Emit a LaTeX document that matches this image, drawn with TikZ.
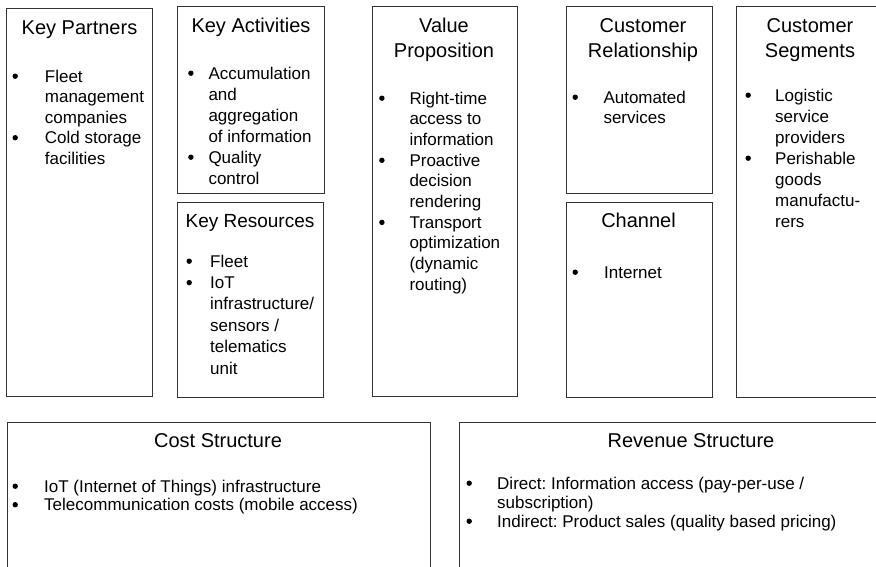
\documentclass[tikz,border=0pt]{standalone}
\usepackage{fontspec}
\setmainfont{Liberation Sans}
\newcommand\bul{\tikz[baseline=0pt]{\useasboundingbox (0pt,0pt) rectangle (6pt,1pt);\fill[black] (3pt,5.8pt) circle[radius=2.7pt];}}
\begin{document}
\frenchspacing
\begin{tikzpicture}[x=1pt,y=-1pt,
  box/.style={draw=black!80, line width=0.9pt, inner sep=0pt, outer sep=0pt, anchor=north west, rectangle},
  ttl/.style={font=\fontsize{20}{25}\selectfont, inner sep=0pt, anchor=base},
  bl/.style={font=\fontsize{17}{#1}\selectfont\frenchspacing, inner sep=0pt, anchor=base west}]
\useasboundingbox (0,0) rectangle (876,566);
% boxes
\node[box, minimum width=146pt, minimum height=388pt] (kp) at (6,8) {};
\node[box, minimum width=147pt, minimum height=187pt] (ka) at (177,6) {};
\node[box, minimum width=146pt, minimum height=195pt] (kr) at (177,202) {};
\node[box, minimum width=145pt, minimum height=390pt] (vp) at (372,6) {};
\node[box, minimum width=146pt, minimum height=187pt] (cr) at (566,6) {};
\node[box, minimum width=146pt, minimum height=195pt] (ch) at (566,202) {};
\node[box, minimum width=154pt, minimum height=391pt] (cs) at (736,6) {};
\node[box, minimum width=423pt, minimum height=160pt] (cost) at (7,422) {};
\node[box, minimum width=464pt, minimum height=160pt] (rev) at (459,422) {};
% titles
\node[ttl] (kpt) at (79.5,34) {Key Partners};
\node[ttl] (kat) at (251,32) {Key Activities};
\node[ttl, font=\fontsize{19}{25}\selectfont] (krt) at (250,227) {Key Resources};
\node[ttl] (vpt) at (444,32) {\begin{tabular}[t]{@{}c@{}}Value\\Proposition\end{tabular}};
\node[ttl] (crt) at (643,32) {\begin{tabular}[t]{@{}c@{}}Customer\\Relationship\end{tabular}};
\node[ttl] (cht) at (638.5,227) {Channel};
\node[ttl] (cst) at (810,32) {\begin{tabular}[t]{@{}c@{}}Customer\\Segments\end{tabular}};
\node[ttl] (costt) at (218,447) {Cost Structure};
\node[ttl] (revt) at (691,447) {Revenue Structure};
% bodies
\node[bl=20.5pt] (kpb) at (12,82) {\begin{tabular}[t]{@{}p{32.7pt}@{}l@{}}
\bul & Fleet\\ & management\\ & companies\\ \bul & Cold storage\\ & facilities\end{tabular}};
\node[bl=21pt] (kab) at (187.7,79) {\begin{tabular}[t]{@{}p{20.6pt}@{}l@{}}
\bul & Accumulation\\ & and\\ & aggregation\\ & of information\\ \bul & Quality\\ & control\end{tabular}};
\node[bl=21.4pt] (krb) at (186,267) {\begin{tabular}[t]{@{}p{24pt}@{}l@{}}
\bul & Fleet\\ \bul & IoT\\ & infrastructure/\\ & sensors /\\ & telematics\\ & unit\end{tabular}};
\node[bl=20.7pt] (vpb) at (378.7,104) {\begin{tabular}[t]{@{}p{30.6pt}@{}l@{}}
\bul & Right-time\\ & access to\\ & information\\ \bul & Proactive\\ & decision\\ & rendering\\ \bul & Transport\\ & optimization\\ & (dynamic\\ & routing)\end{tabular}};
\node[bl=20.7pt] (crb) at (572,103) {\begin{tabular}[t]{@{}p{31.3pt}@{}l@{}}
\bul & Automated\\ & services\end{tabular}};
\node[bl=20.7pt] (chb) at (572,278) {\begin{tabular}[t]{@{}p{32pt}@{}l@{}}
\bul & Internet\end{tabular}};
\node[bl=21pt] (csb) at (745,101) {\begin{tabular}[t]{@{}p{30pt}@{}l@{}}
\bul & Logistic\\ & service\\ & providers\\ \bul & Perishable\\ & goods\\ & manufactu-\\ & rers\end{tabular}};
\node[bl=18.5pt] (costb) at (12,492) {\begin{tabular}[t]{@{}p{32pt}@{}l@{}}
\bul & IoT (Internet of Things) infrastructure\\ \bul & Telecommunication costs (mobile access)\end{tabular}};
\node[bl=19pt] (revb) at (466,489) {\begin{tabular}[t]{@{}p{31pt}@{}l@{}}
\bul & Direct: Information access (pay-per-use /\\ & subscription)\\ \bul & Indirect: Product sales (quality based pricing)\end{tabular}};
\end{tikzpicture}
\end{document}
